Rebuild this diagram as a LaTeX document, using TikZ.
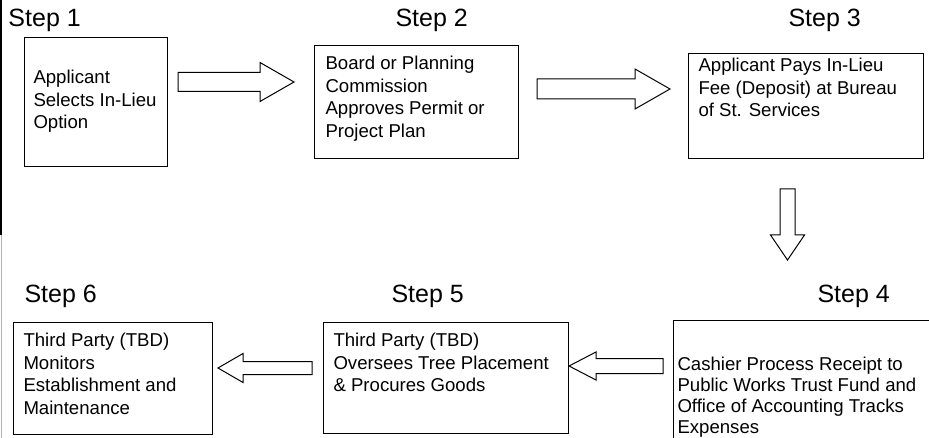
\documentclass[tikz,border=0pt]{standalone}
\usepackage{fontspec}
\setmainfont{Liberation Sans}
\usepackage{tikz}
\usetikzlibrary{calc}
\usetikzlibrary{positioning}
\tikzstyle{stepbox}=[rectangle, draw, line width=1.2pt, anchor=north west, inner sep=0pt]
\tikzstyle{boxtext}=[align=left, inner sep=0pt, font=\fontsize{18.6}{22.5}\selectfont]
\tikzstyle{steplabel}=[anchor=base west, inner sep=0pt, font=\fontsize{25}{30}\selectfont]
\tikzset{every picture/.style={
    line width=1
  },
  hollowarrow/.style n args={3}{draw, line width=1pt, line join=miter, to path={
      let \p1=(\tikztostart), \p2=(\tikztotarget),
          \n1={atan2(\y2-\y1,\x2-\x1)}, \n2={veclen(\x2-\x1,\y2-\y1)} in
      {[shift={(\p1)}, rotate=\n1]
        (0pt,-#1pt) -- (\n2-#3pt,-#1pt) -- (\n2-#3pt,-#2pt) -- (\n2,0pt)
        -- (\n2-#3pt,#2pt) -- (\n2-#3pt,#1pt) -- (0pt,#1pt) -- cycle}}}
}

\begin{document}
\begin{tikzpicture}[x=1pt, y=-1pt]
        \useasboundingbox (0,0) rectangle (929,438);
        \clip (0,0) rectangle (929,438);
        % frame edge on the left
        \draw[line width=2pt] (1,0) -- (1,235);
        \draw[gray!60, line width=0.8pt] (1,235) -- (1,438);

        \node[steplabel] at (8,27) (s1) {Step 1};
        \node[steplabel] at (395,27) (s2) {Step 2};
        \node[steplabel] at (788,27) (s3) {Step 3};
        \node[steplabel] at (817,303) (s4) {Step 4};
        \node[steplabel] at (391,303) (s5) {Step 5};
        \node[steplabel] at (24,303) (s6) {Step 6};

        \node[stepbox, minimum width=143, minimum height=129] at (24,37) (b1) {};
        \node[stepbox, minimum width=204, minimum height=113] at (314,45) (b2) {};
        \node[stepbox, minimum width=235, minimum height=105] at (688,53) (b3) {};
        \node[stepbox, minimum width=270, minimum height=130] at (673,320) (b4) {};
        \node[stepbox, minimum width=245, minimum height=111] at (323,322) (b5) {};
        \node[stepbox, minimum width=199, minimum height=112] at (13,322) (b6) {};

        \node[boxtext, anchor=north west, below right=33pt and 9pt of b1.north west] (t1)
          {Applicant\\Selects In-Lieu\\Option};
        \node[boxtext, anchor=north west, below right=11pt and 11pt of b2.north west] (t2)
          {Board or Planning\\Commission\\Approves Permit or\\Project Plan};
        \node[boxtext, anchor=north west, below right=5pt and 10pt of b3.north west] (t3)
          {Applicant Pays In-Lieu\\Fee (Deposit) at Bureau\\of St. Services};
        \node[boxtext, anchor=north west, below right=37pt and 4pt of b4.north west,
              font=\fontsize{18.6}{21}\selectfont] (t4)
          {Cashier Process Receipt to\\Public Works Trust Fund and\\Office of Accounting Tracks\\Expenses};
        \node[boxtext, anchor=north west, below right=11pt and 10pt of b5.north west] (t5)
          {Third Party (TBD)\\Oversees Tree Placement\\\& Procures Goods};
        \node[boxtext, anchor=north west, below right=11pt and 10pt of b6.north west] (t6)
          {Third Party (TBD)\\Monitors\\Establishment and\\Maintenance};

        \coordinate (a1from) at (178,82);   \coordinate (a1to) at (294,82);
        \coordinate (a2from) at (537,89);   \coordinate (a2to) at (670,89);
        \coordinate (a3from) at (787.5,189); \coordinate (a3to) at (787.5,260);
        \coordinate (a4from) at (663,366);  \coordinate (a4to) at (569,366);
        \coordinate (a5from) at (312,368);  \coordinate (a5to) at (218,368);

        \draw[hollowarrow={9.5}{19.5}{34}] (a1from) to (a1to);
        \draw[hollowarrow={10}{20}{35}]    (a2from) to (a2to);
        \draw[hollowarrow={7.5}{17}{25}]   (a3from) to (a3to);
        \draw[hollowarrow={7.5}{14}{27}]   (a4from) to (a4to);
        \draw[hollowarrow={6.5}{14.5}{25}] (a5from) to (a5to);
      \end{tikzpicture}
\end{document}
